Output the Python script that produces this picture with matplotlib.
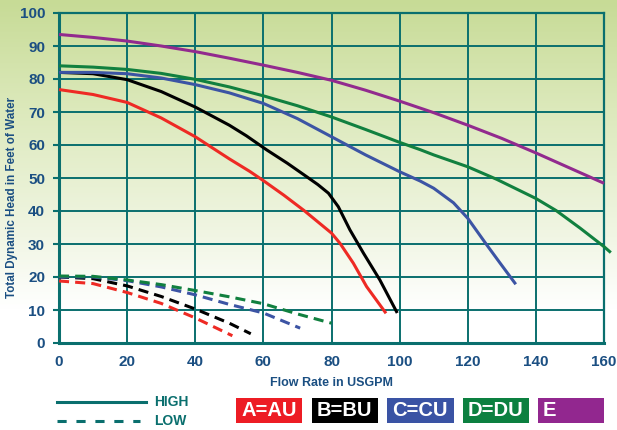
import numpy as np
import matplotlib
matplotlib.use("Agg")
import matplotlib.pyplot as plt
from matplotlib.colors import LinearSegmentedColormap
from matplotlib.patches import Rectangle
from matplotlib.lines import Line2D

# ---- data ----
a_high_x = [0, 10, 20, 30, 40, 50, 56, 60, 66, 72, 80, 82.5, 86.4, 90.3, 96]
a_high_y = [76.8, 75.3, 72.9, 68.2, 62.5, 55.8, 52.0, 49.2, 44.8, 40.1, 33.3, 30.2, 24.2, 17.1, 9.0]
b_high_x = [0, 10, 20, 30, 40, 50, 55, 61, 67, 72.7, 76, 79.1, 82, 85.4, 89.4, 94.2, 99.3]
b_high_y = [82.0, 81.6, 79.8, 76.2, 71.5, 66.0, 62.8, 58.5, 54.5, 50.4, 48.0, 45.4, 41.3, 34.3, 27.2, 19.1, 9.1]
c_high_x = [0, 10, 20, 30, 40, 50, 60, 70, 80, 90, 100, 106, 110, 115.8, 120, 125.6, 129.5, 134.1]
c_high_y = [82.0, 82.0, 81.6, 80.3, 78.3, 75.8, 72.6, 68.0, 62.5, 57.0, 51.9, 49.1, 46.9, 42.5, 37.8, 29.7, 24.2, 17.8]
d_high_x = [0, 10, 20, 30, 40, 50, 60, 70, 80, 90, 100, 106, 110, 120, 128.5, 140, 146, 153, 160, 162]
d_high_y = [84.0, 83.6, 82.9, 81.7, 79.9, 77.6, 74.9, 71.9, 68.5, 64.7, 60.8, 58.6, 57.0, 53.4, 49.6, 43.8, 40.1, 34.8, 29.2, 27.4]
e_high_x = [0, 10, 20, 30, 40, 50, 60, 70, 80, 90, 100, 110, 120, 130, 140, 150, 160]
e_high_y = [93.5, 92.6, 91.5, 90.0, 88.3, 86.3, 84.2, 82.0, 79.6, 76.6, 73.3, 69.8, 66.0, 62.0, 57.6, 53.0, 48.4]

a_low_x = [0, 10, 20, 30, 40, 50.9]
a_low_y = [18.8, 18.0, 15.3, 12.0, 7.6, 2.2]
b_low_x = [0, 10, 20, 30, 40, 50, 56.3]
b_low_y = [20.0, 19.5, 17.3, 14.1, 10.3, 6.0, 2.8]
c_low_x = [0, 10, 20, 30, 40, 50, 60, 70.8]
c_low_y = [20.0, 20.0, 18.9, 17.0, 14.6, 11.7, 9.1, 4.5]
d_low_x = [0, 10, 20, 30, 40, 50, 60, 70, 80]
d_low_y = [20.3, 20.2, 19.1, 17.7, 15.9, 14.0, 11.9, 8.8, 6.0]

x_ticks = [0, 20, 40, 60, 80, 100, 120, 140, 160]
y_ticks = [0, 10, 20, 30, 40, 50, 60, 70, 80, 90, 100]

series_names = ["A=AU", "B=BU", "C=CU", "D=DU", "E"]
series_colors = ["#ee2a24", "#000000", "#3c54a4", "#11803f", "#922a8e"]
box_colors = ["#ed1c24", "#000000", "#3a53a4", "#0c8040", "#92278f"]

W, H = 617, 430
fig = plt.figure(figsize=(W / 100, H / 100), dpi=100)

# background gradient
bg = fig.add_axes([0, 0, 1, 1], zorder=-10)
bg.set_axis_off()
cmap = LinearSegmentedColormap.from_list(
    "g", [(0.0, "#c7db96"), (0.25, "#dce9bb"), (0.55, "#f1f6e4"), (0.72, "#ffffff"), (1.0, "#ffffff")])
grad = np.linspace(0, 1, 430).reshape(-1, 1)
bg.imshow(grad, aspect="auto", cmap=cmap, extent=[0, 1, 0, 1], origin="upper")
bg.set_xlim(0, 1)
bg.set_ylim(0, 1)

teal = "#0a6f6e"
navy = "#1b4f82"

ax = fig.add_axes([59 / W, 1 - 343 / H, 545 / W, 330 / H])
ax.patch.set_alpha(0)
ax.set_xlim(0, 160)
ax.set_ylim(0, 100)
ax.set_xticks(x_ticks)
ax.set_yticks(y_ticks)
ax.grid(True, color=teal, lw=1.4, zorder=1)
ax.set_axisbelow(True)
for s in ["left", "bottom"]:
    ax.spines[s].set_color(teal)
    ax.spines[s].set_linewidth(2.2)
for s in ["top", "right"]:
    ax.spines[s].set_color(teal)
    ax.spines[s].set_linewidth(1.6)
ax.tick_params(axis="y", length=4, width=1.5, color=teal, pad=6)
ax.tick_params(axis="x", length=0, pad=9)
tfont = dict(family="Liberation Sans", weight="bold", size=11)
ax.set_xticklabels([str(v) for v in x_ticks], fontdict=tfont, color=navy)
ax.set_yticklabels([str(v) for v in y_ticks], fontdict=tfont, color=navy)

lw = 2.2
highs = [(a_high_x, a_high_y), (b_high_x, b_high_y), (c_high_x, c_high_y),
         (d_high_x, d_high_y), (e_high_x, e_high_y)]
lows = [(a_low_x, a_low_y), (b_low_x, b_low_y), (c_low_x, c_low_y), (d_low_x, d_low_y)]
for (x, y), c in zip(highs, series_colors):
    ax.plot(x, y, color=c, lw=lw, clip_on=False, zorder=3, solid_capstyle="butt",
            solid_joinstyle="round")
for (x, y), c in zip(lows, series_colors):
    ax.plot(x, y, color=c, lw=lw, clip_on=False, zorder=3, dashes=(3.3, 2.0))

# axis titles
fig.text(332 / W, 1 - 383 / H, "Flow Rate in USGPM", ha="center", va="center",
         family="Liberation Sans", weight="bold", size=9, color=navy)
fig.text(12 / W, 1 - 197 / H, "Total Dynamic Head in Feet of Water", ha="center", va="center",
         rotation=90, family="Liberation Sans", weight="bold", size=8.4, color=navy)

# HIGH / LOW legend
fig.add_artist(Line2D([57 / W, 146 / W], [1 - 402 / H, 1 - 402 / H], color=teal, lw=2.2))
fig.add_artist(Line2D([57 / W, 140 / W], [1 - 421 / H, 1 - 421 / H], color=teal, lw=2.2,
                      dashes=(3.0, 3.2)))
fig.text(154 / W, 1 - 402 / H, "HIGH", ha="left", va="center",
         family="Liberation Sans", weight="bold", size=10, color=teal)
fig.text(154 / W, 1 - 421 / H, "LOW", ha="left", va="center",
         family="Liberation Sans", weight="bold", size=10, color=teal)

# coloured boxes
box_left = [236, 312, 387, 463, 538]
box_right = [302, 378, 454, 529, 604]
for name, c, l, r in zip(series_names, box_colors, box_left, box_right):
    fig.add_artist(Rectangle((l / W, 1 - 423 / H), (r - l) / W, 25 / H,
                             transform=fig.transFigure, facecolor=c, edgecolor="none"))
    fig.text((l + 5) / W, 1 - 411 / H, name, ha="left", va="center",
             family="Liberation Sans", weight="bold", size=14.5, color="white")

fig.savefig("out.png", dpi=100)
